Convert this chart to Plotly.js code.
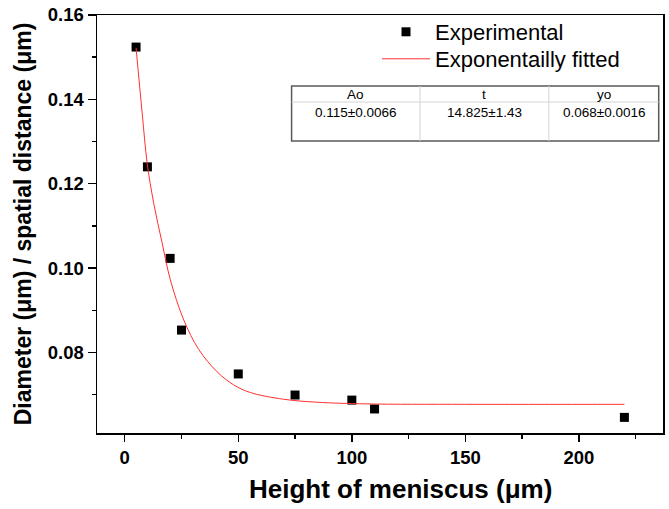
<!DOCTYPE html>
<html>
<head>
<meta charset="utf-8">
<script src="https://cdn.plot.ly/plotly-3.0.1.min.js"></script>
<style>html,body{margin:0;padding:0;background:#fff;}#chart{width:669px;height:509px;}</style>
</head>
<body>
<div id="chart"></div>
<script>
// Experimental data
const heightMeniscus = [5, 10, 20, 25, 50, 75, 100, 110, 220];
const diameter = [0.1524, 0.1240, 0.1023, 0.0853, 0.0749, 0.0699, 0.0687, 0.0666, 0.0646];

// Exponential fit curve
const fitX = [5, 7.7, 9.9, 12.8, 16.5, 20.1, 26, 32.6, 40.7, 48, 55.3, 70, 84.6, 106.6, 150, 220];
const fitY = [0.1522, 0.1367, 0.1248, 0.1153, 0.1059, 0.0972, 0.0877, 0.0807, 0.0754, 0.0723, 0.0705, 0.0689, 0.0682, 0.0678, 0.0677, 0.0677];

// Fit parameter table
const tableHeaders = ['Ao', 't', 'yo'];
const tableValues = ['0.115\u00B10.0066', '14.825\u00B11.43', '0.068\u00B10.0016'];

// Axis ticks
const xTickVals = [0, 50, 100, 150, 200];
const yTickVals = [0.08, 0.10, 0.12, 0.14, 0.16];
const yTickText = ['0.08', '0.10', '0.12', '0.14', '0.16'];

// layout geometry helpers (pixels -> paper)
const W = 669, H = 509;
const mL = 96.7, mR = W - 663.3, mT = 15, mB = H - 433;
const pw = W - mL - mR, ph = H - mT - mB;
const px = v => (v - mL) / pw;
const py = v => (H - mB - v) / ph;

const tblL = 291.5, tblR = 659, tblT = 86, tblB = 141, tblHdr = 102;
const colEdges = [tblL, 420, 549, tblR];

const shapes = [];
const annotations = [];
shapes.push({type: 'rect', xref: 'paper', yref: 'paper', x0: px(tblL), x1: px(tblR), y0: py(tblB), y1: py(tblT),
  line: {color: '#5a5a5a', width: 1.5}, fillcolor: 'rgba(255,255,255,0)', layer: 'above'});
shapes.push({type: 'line', xref: 'paper', yref: 'paper', x0: px(tblL), x1: px(tblR), y0: py(tblHdr), y1: py(tblHdr),
  line: {color: '#d4d4d4', width: 1}, layer: 'above'});
for (let i = 1; i < colEdges.length - 1; i++) {
  shapes.push({type: 'line', xref: 'paper', yref: 'paper', x0: px(colEdges[i]), x1: px(colEdges[i]), y0: py(tblB), y1: py(tblT),
    line: {color: '#d4d4d4', width: 1}, layer: 'above'});
}
const tblFont = {family: 'Liberation Sans, Arial, sans-serif', size: 13.5, color: '#000'};
for (let i = 0; i < tableHeaders.length; i++) {
  const cx = px((colEdges[i] + colEdges[i + 1]) / 2);
  annotations.push({xref: 'paper', yref: 'paper', x: cx, y: py(94.5), text: tableHeaders[i], showarrow: false,
    xanchor: 'center', yanchor: 'middle', font: tblFont});
  annotations.push({xref: 'paper', yref: 'paper', x: cx, y: py(112), text: tableValues[i], showarrow: false,
    xanchor: 'center', yanchor: 'middle', font: tblFont});
}
// x axis title (offset to the right as in the original)
annotations.push({xref: 'paper', yref: 'paper', x: px(401), y: py(489), text: 'Height of meniscus (\u03BCm)', showarrow: false,
  xanchor: 'center', yanchor: 'middle',
  font: {family: 'Liberation Sans, Arial, sans-serif', size: 26, color: '#000', weight: 'bold'}});

const traces = [
  {x: heightMeniscus, y: diameter, mode: 'markers', type: 'scatter', name: 'Experimental', legend: 'legend',
   marker: {symbol: 'square', size: 9, color: '#000', line: {width: 0}}},
  {x: fitX, y: fitY, mode: 'lines', type: 'scatter', name: 'Exponentailly fitted', legend: 'legend2',
   line: {color: '#ff3030', width: 1, shape: 'spline', smoothing: 1}}
];

const axisFont = {family: 'Liberation Sans, Arial, sans-serif', size: 18.5, color: '#000', weight: 'bold'};
const legFont = {family: 'Liberation Sans, Arial, sans-serif', size: 22, color: '#000'};

const layout = {
  width: W, height: H,
  margin: {l: mL, r: mR, t: mT, b: mB},
  paper_bgcolor: '#fff', plot_bgcolor: '#fff',
  font: {family: 'Liberation Sans, Arial, sans-serif', color: '#000'},
  showlegend: true,
  legend: {x: px(377), y: py(32), xanchor: 'left', yanchor: 'middle', bgcolor: 'rgba(0,0,0,0)', font: legFont, itemwidth: 48},
  legend2: {x: px(377), y: py(59), xanchor: 'left', yanchor: 'middle', bgcolor: 'rgba(0,0,0,0)', font: legFont, itemwidth: 48},
  xaxis: {
    range: [-12.2, 237], showgrid: false, zeroline: false,
    showline: true, linecolor: '#000', linewidth: 1.5, mirror: true,
    ticks: 'outside', ticklen: 7, tickwidth: 1.5, tickcolor: '#000',
    tickvals: xTickVals, tickfont: axisFont,
    minor: {dtick: 25, tick0: 0, ticks: 'outside', ticklen: 4, tickwidth: 1.5, tickcolor: '#000', showgrid: false}
  },
  yaxis: {
    range: [0.0609, 0.16], showgrid: false, zeroline: false,
    showline: true, linecolor: '#000', linewidth: 1.5, mirror: true,
    ticks: 'outside', ticklen: 8, tickwidth: 1.5, tickcolor: '#000',
    tickvals: yTickVals, ticktext: yTickText, tickfont: axisFont,
    minor: {dtick: 0.01, tick0: 0, ticks: 'outside', ticklen: 4, tickwidth: 1.5, tickcolor: '#000', showgrid: false},
    title: {text: 'Diameter (\u03BCm) / spatial distance (\u03BCm)', font: {family: 'Liberation Sans, Arial, sans-serif', size: 23, color: '#000', weight: 'bold'}, standoff: 9}
  },
  shapes: shapes,
  annotations: annotations
};

Plotly.newPlot('chart', traces, layout, {displayModeBar: false, staticPlot: true});
</script>
</body>
</html>
